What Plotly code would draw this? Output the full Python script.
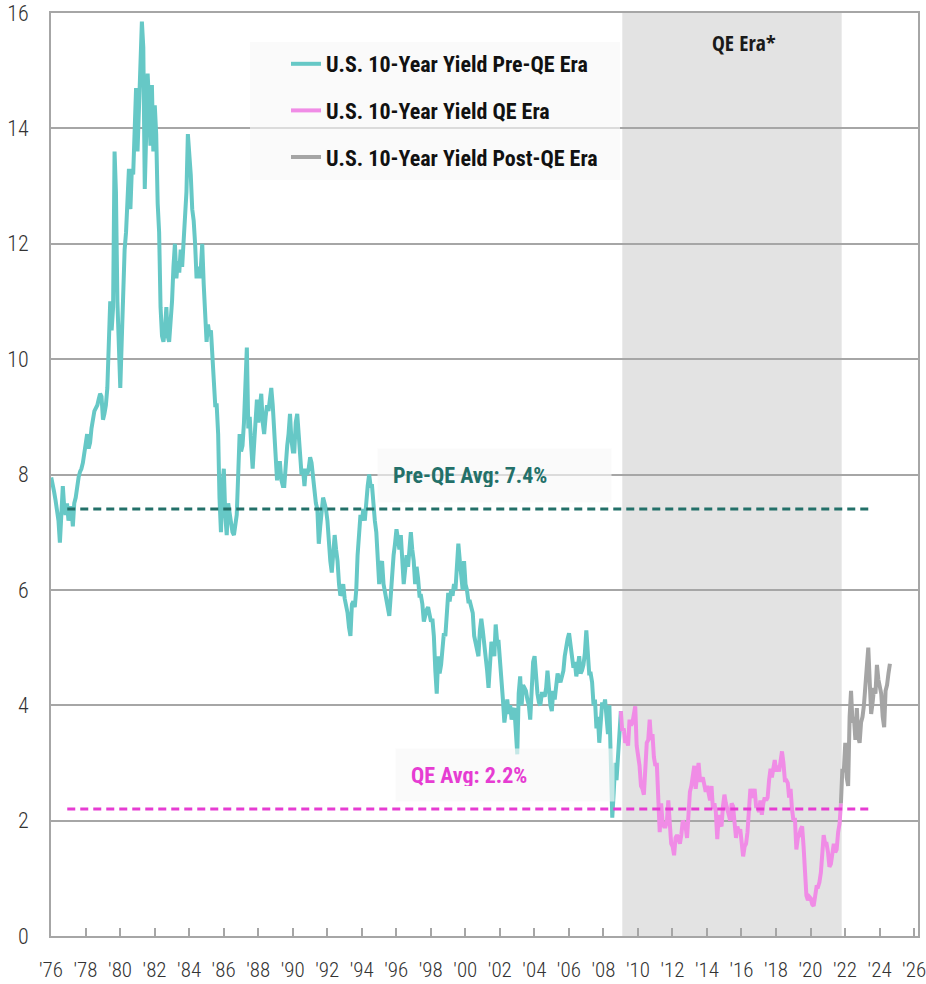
import pandas as pd
import plotly.graph_objects as go

# ---------------- data (monthly) ----------------
pre_qe_start = "1976-06-01"
pre_qe_yield = [
    7.95, 7.85, 7.70, 7.55, 7.40, 7.20, 6.82,                                   # 1976 Jun-Dec
    7.50, 7.80, 7.45, 7.30, 7.50, 7.20, 7.30, 7.45, 7.10, 7.50, 7.60, 7.80,     # 1977
    7.95, 8.05, 8.10, 8.20, 8.40, 8.50, 8.70, 8.45, 8.55, 8.80, 9.00, 9.10,     # 1978
    9.15, 9.20, 9.30, 9.40, 9.35, 8.95, 9.05, 9.20, 9.50, 10.20, 11.00, 10.50,  # 1979
    10.90, 13.60, 12.90, 11.00, 10.20, 9.50, 10.30, 11.50, 11.90, 12.20, 12.90, 13.30,  # 1980
    12.60, 13.30, 13.20, 14.00, 14.70, 13.60, 14.50, 15.30, 15.85, 15.40, 12.95, 13.90,  # 1981
    14.95, 14.40, 13.70, 14.75, 13.60, 14.40, 13.90, 12.70, 12.20, 10.90, 10.40, 10.30,  # 1982
    10.50, 10.90, 10.40, 10.30, 10.60, 11.00, 11.60, 12.00, 11.40, 11.70, 11.50, 11.90,  # 1983
    11.60, 12.00, 12.50, 12.90, 13.90, 13.60, 13.20, 12.60, 12.40, 12.00, 11.40, 11.60,  # 1984
    11.40, 11.60, 12.00, 11.30, 10.70, 10.30, 10.60, 10.40, 10.50, 10.10, 9.70, 9.20,    # 1985
    9.20, 8.70, 7.60, 7.00, 7.80, 8.10, 7.30, 6.95, 7.50, 7.30, 7.15, 7.00,     # 1986
    6.95, 7.10, 7.30, 8.00, 8.70, 8.40, 8.50, 8.90, 9.50, 10.20, 8.80, 9.00,    # 1987
    8.50, 8.10, 8.50, 8.90, 9.30, 8.90, 9.10, 9.40, 8.90, 8.70, 9.00, 9.20,     # 1988
    9.10, 9.30, 9.50, 9.20, 8.80, 8.20, 7.90, 8.20, 8.20, 7.90, 7.80, 7.80,     # 1989
    8.30, 8.50, 8.70, 9.05, 8.60, 8.40, 8.40, 8.90, 9.05, 8.60, 8.30, 8.00,     # 1990
    8.10, 7.80, 8.10, 8.00, 8.10, 8.30, 8.20, 7.90, 7.60, 7.50, 7.40, 6.80,     # 1991
    7.10, 7.30, 7.60, 7.50, 7.40, 7.20, 6.80, 6.50, 6.30, 6.70, 6.95, 6.70,     # 1992
    6.50, 6.10, 5.90, 5.95, 6.10, 5.85, 5.75, 5.60, 5.35, 5.20, 5.75, 5.80,     # 1993
    5.70, 6.00, 6.60, 7.10, 7.30, 7.20, 7.40, 7.20, 7.60, 7.80, 8.00, 7.80,     # 1994
    7.80, 7.40, 7.20, 7.00, 6.50, 6.10, 6.40, 6.50, 6.10, 5.95, 5.80, 5.60,     # 1995
    5.55, 5.90, 6.40, 6.60, 6.80, 7.05, 6.90, 6.70, 6.95, 6.50, 6.10, 6.35,     # 1996
    6.60, 6.40, 6.80, 7.00, 6.70, 6.50, 6.10, 6.40, 6.20, 5.90, 5.90, 5.75,     # 1997
    5.45, 5.60, 5.65, 5.70, 5.60, 5.45, 5.50, 5.20, 4.60, 4.20, 4.85, 4.55,     # 1998
    4.70, 5.10, 5.25, 5.20, 5.60, 5.95, 5.80, 6.00, 5.90, 6.10, 6.00, 6.40,     # 1999
    6.80, 6.50, 6.20, 6.00, 6.50, 6.10, 6.00, 5.80, 5.80, 5.70, 5.60, 5.20,     # 2000
    5.10, 5.00, 4.85, 5.30, 5.50, 5.30, 5.10, 4.85, 4.60, 4.30, 4.80, 5.10,     # 2001
    5.00, 4.85, 5.40, 5.10, 5.10, 4.80, 4.50, 4.10, 3.70, 4.00, 4.10, 3.85,     # 2002
    4.00, 3.75, 3.90, 3.95, 3.40, 3.15, 4.20, 4.50, 4.00, 4.35, 4.30, 4.25,     # 2003
    4.10, 4.00, 3.75, 4.50, 4.75, 4.85, 4.45, 4.20, 4.05, 4.00, 4.20, 4.20,     # 2004
    4.15, 4.30, 4.60, 4.20, 4.00, 3.90, 4.25, 4.10, 4.30, 4.55, 4.45, 4.40,     # 2005
    4.50, 4.60, 4.85, 5.05, 5.15, 5.25, 5.00, 4.80, 4.65, 4.75, 4.50, 4.65,     # 2006
    4.85, 4.55, 4.60, 4.70, 4.90, 5.30, 4.80, 4.55, 4.55, 4.40, 4.00, 4.10,     # 2007
    3.60, 3.80, 3.35, 3.85, 4.05, 3.95, 4.10, 3.80, 3.50, 4.00, 3.00, 2.05,     # 2008
    2.50, 3.00, 2.70, 3.10, 3.40, 3.90,                                         # 2009 Jan-Jun
]

qe_start = "2009-07-01"
qe_yield = [
    3.55, 3.60, 3.35, 3.40, 3.30, 3.75,                                         # 2009 Jul-Dec
    3.65, 3.70, 3.85, 3.98, 3.30, 3.10, 2.95, 2.60, 2.55, 2.45, 2.80, 3.35,     # 2010
    3.40, 3.75, 3.40, 3.50, 3.10, 2.95, 3.00, 2.20, 1.80, 2.30, 1.95, 1.90,     # 2011
    1.90, 2.00, 2.35, 1.95, 1.60, 1.55, 1.40, 1.70, 1.75, 1.70, 1.60, 1.75,     # 2012
    2.00, 1.95, 1.90, 1.70, 2.15, 2.50, 2.60, 2.85, 2.95, 2.55, 2.75, 3.00,     # 2013
    2.70, 2.70, 2.75, 2.65, 2.50, 2.60, 2.50, 2.35, 2.60, 2.20, 2.30, 2.15,     # 2014
    1.68, 2.10, 1.95, 1.90, 2.25, 2.45, 2.30, 2.15, 2.10, 2.00, 2.30, 2.25,     # 2015
    2.00, 1.70, 1.90, 1.80, 1.85, 1.50, 1.38, 1.55, 1.60, 1.80, 2.30, 2.55,     # 2016
    2.45, 2.40, 2.55, 2.25, 2.25, 2.15, 2.35, 2.10, 2.30, 2.40, 2.35, 2.40,     # 2017
    2.70, 2.90, 2.75, 2.95, 3.05, 2.85, 2.95, 2.85, 3.05, 3.20, 3.00, 2.70,     # 2018
    2.70, 2.65, 2.40, 2.55, 2.20, 2.00, 2.05, 1.50, 1.70, 1.75, 1.85, 1.90,     # 2019
    1.55, 1.15, 0.70, 0.62, 0.68, 0.65, 0.55, 0.52, 0.68, 0.85, 0.85, 0.93,     # 2020
    1.10, 1.45, 1.75, 1.60, 1.60, 1.45, 1.20, 1.25, 1.50, 1.60, 1.45, 1.50,     # 2021
    1.80, 1.95, 2.30,                                                           # 2022 Jan-Mar
]

post_qe_start = "2022-04-01"
post_qe_yield = [
    2.90, 2.85, 3.35, 2.75, 2.60, 3.80, 4.25, 3.70, 3.80,                       # 2022 Apr-Dec
    3.40, 3.95, 3.45, 3.35, 3.70, 3.80, 4.00, 4.30, 4.60, 5.00, 4.40, 3.85,     # 2023
    4.05, 4.30, 4.20, 4.70, 4.45, 4.30, 4.20, 3.80, 3.62, 4.25, 4.35, 4.55,     # 2024
    4.72,                                                                       # 2025 Jan
]

qe_era = ["2009-07-15", "2022-03-31"]
avg_span = ["1977-05-20", "2023-11-20"]
pre_qe_avg = 7.4
qe_avg = 2.2

series_names = ["U.S. 10-Year Yield Pre-QE Era",
                "U.S. 10-Year Yield QE Era",
                "U.S. 10-Year Yield Post-QE Era"]
tick_years = list(range(1976, 2027, 2))
tick_labels = ["'" + str(y)[2:] for y in tick_years]
y_ticks = list(range(0, 17, 2))

# ---------------- styling ----------------
TEAL = "#66c8c6"
PINK = "#f08ce6"
GRAY = "#a5a5a5"
PRE_AVG_C = "#237069"
QE_AVG_C = "#e63cd2"
GRID = "#a6a6a6"
FONT = "Roboto Condensed, Open Sans Condensed, sans-serif"
FONT_ERA = "Open Sans Condensed, Roboto Condensed, sans-serif"

W, H = 926, 984
L, R, T, B = 51, 918, 13, 936   # plot area in page pixels


def px(xs):
    return (xs - L) / (R - L)


def py(ys):
    return (B - ys) / (B - T)


def months(start, n):
    return pd.date_range(start, periods=n, freq="MS") + pd.Timedelta(days=14)


pre_x = months(pre_qe_start, len(pre_qe_yield))
qe_x = months(qe_start, len(qe_yield))
post_x = months(post_qe_start, len(post_qe_yield))

fig = go.Figure()
fig.add_trace(go.Scatter(x=pre_x, y=pre_qe_yield, mode="lines", name=series_names[0],
                         legendgroup="a", line=dict(color=TEAL, width=4)))
fig.add_trace(go.Scatter(x=[pre_x[-1]] + list(qe_x), y=[pre_qe_yield[-1]] + qe_yield,
                         mode="lines", name=series_names[1], legendgroup="b",
                         line=dict(color=PINK, width=4)))
fig.add_trace(go.Scatter(x=[qe_x[-1]] + list(post_x), y=[qe_yield[-1]] + post_qe_yield,
                         mode="lines", name=series_names[2], legendgroup="c",
                         line=dict(color=GRAY, width=4)))
fig.add_trace(go.Scatter(x=avg_span, y=[pre_qe_avg] * 2, mode="lines", showlegend=False,
                         line=dict(color=PRE_AVG_C, width=3, dash="8px,5px")))
fig.add_trace(go.Scatter(x=avg_span, y=[qe_avg] * 2, mode="lines", showlegend=False,
                         line=dict(color=QE_AVG_C, width=3, dash="8px,5px")))

# QE era shading
fig.add_shape(type="rect", xref="x", yref="paper", x0=qe_era[0], x1=qe_era[1], y0=0, y1=1,
              fillcolor="#e3e3e3", line=dict(width=0), layer="below")
# legend background box
fig.add_shape(type="rect", xref="paper", yref="paper", x0=px(250), x1=px(620),
              y0=py(180), y1=py(42), fillcolor="rgba(248,248,248,0.65)",
              line=dict(width=0), layer="above")

fig.add_annotation(text="QE Era*", xref="paper", yref="paper", x=px(744), y=py(43),
                   xanchor="center", yanchor="middle", showarrow=False,
                   font=dict(family=FONT_ERA, size=21.5, color="#1a1a1a", weight="bold"))
fig.add_annotation(text=f"Pre-QE Avg: {pre_qe_avg}%", xref="paper", yref="paper",
                   x=px(377), y=py(448), xanchor="left", yanchor="top", showarrow=False,
                   width=203, height=23, borderpad=15, align="left",
                   bgcolor="rgba(248,248,248,0.65)",
                   font=dict(family=FONT, size=22, color=PRE_AVG_C, weight="bold"))
fig.add_annotation(text=f"QE Avg: {qe_avg}%", xref="paper", yref="paper",
                   x=px(395), y=py(748), xanchor="left", yanchor="top", showarrow=False,
                   width=188, height=22, borderpad=15, align="left",
                   bgcolor="rgba(248,248,248,0.65)",
                   font=dict(family=FONT, size=22, color=QE_AVG_C, weight="bold"))

fig.update_layout(
    width=W, height=H,
    margin=dict(l=L, r=W - R, t=T, b=H - B, autoexpand=False),
    paper_bgcolor="white", plot_bgcolor="white",
    font=dict(family=FONT, color="#404040"),
    showlegend=True,
    legend=dict(x=px(286), y=py(43), xanchor="left", yanchor="top",
                bgcolor="rgba(0,0,0,0)", tracegroupgap=15,
                font=dict(family=FONT, size=22, color="#111111", weight="bold")),
    xaxis=dict(type="date", range=["1976-06-10", "2026-09-01"], automargin=False,
               tickmode="array", tickvals=[f"{y}-06-10" for y in tick_years],
               ticktext=tick_labels, ticks="inside", ticklen=8, tickwidth=2,
               tickcolor=GRID, showline=True, linecolor=GRID, linewidth=2, mirror=True,
               showgrid=False, zeroline=False, ticklabelstandoff=14,
               ticklabeloverflow="allow",
               tickfont=dict(family=FONT, size=21, color="#333333", weight=300)),
    yaxis=dict(range=[0, 16], tickmode="array", tickvals=y_ticks, automargin=False,
               showgrid=True, gridcolor=GRID, gridwidth=2, zeroline=False,
               showline=True, linecolor=GRID, linewidth=2, mirror=True, ticks="",
               ticklabelstandoff=16, ticklabeloverflow="allow",
               tickfont=dict(family=FONT, size=22, color="#333333", weight=300)),
)

# remove the browser's default 8px body margin so the figure sits at the page origin
fig.write_html("out.html", config={"displayModeBar": False},
               post_script="document.body.style.margin='0';document.body.style.overflow='hidden';")
